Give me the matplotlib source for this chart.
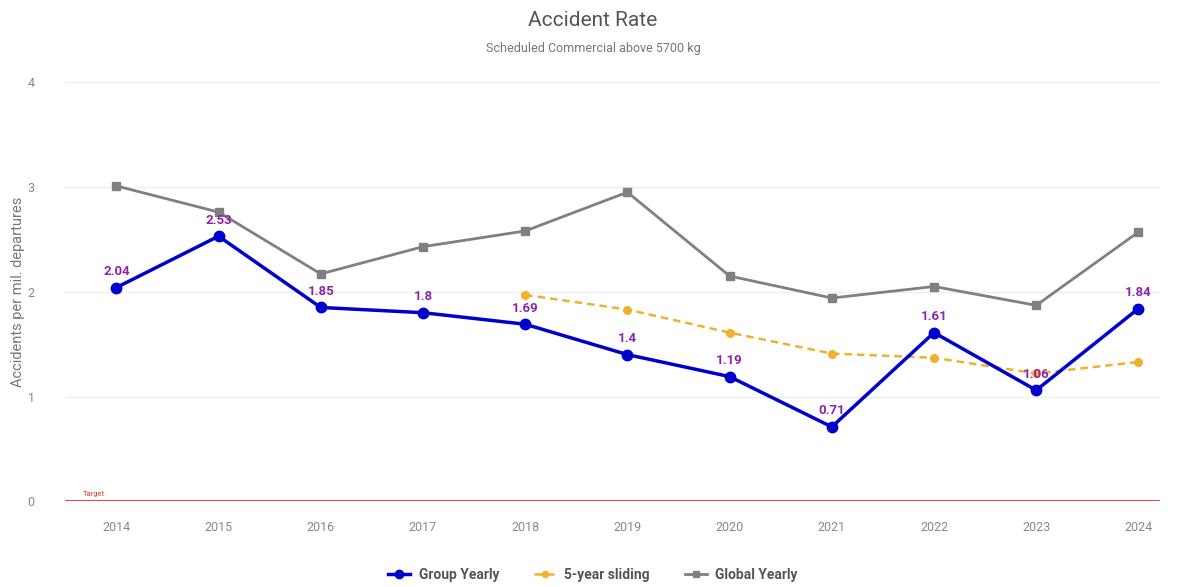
import matplotlib
matplotlib.use("Agg")
import matplotlib.pyplot as plt

years = ["2014", "2015", "2016", "2017", "2018", "2019", "2020", "2021", "2022", "2023", "2024"]
group_yearly = [2.04, 2.53, 1.85, 1.80, 1.69, 1.40, 1.19, 0.71, 1.61, 1.06, 1.84]
sliding_years = ["2018", "2019", "2020", "2021", "2022", "2023", "2024"]
sliding_5yr = [1.97, 1.83, 1.61, 1.41, 1.37, 1.22, 1.33]
global_yearly = [3.01, 2.76, 2.17, 2.43, 2.58, 2.95, 2.15, 1.94, 2.05, 1.87, 2.57]
target = 0

plt.rcParams['font.family'] = ['Roboto', 'DejaVu Sans']

fig = plt.figure(figsize=(11.86, 5.87), dpi=100)
ax = fig.add_axes([0.055, 0.146, 0.923, 0.714])

x = list(range(len(years)))
xs = [years.index(y) for y in sliding_years]

ax.plot(x, global_yearly, color="#808080", lw=2, marker="s", ms=6, zorder=3, label="Global Yearly")
ax.plot(xs, sliding_5yr, color="#F0B030", lw=1.8, ls=(0, (3, 2)), marker="o", ms=5.5, zorder=3, label="5-year sliding")
ax.plot(x, group_yearly, color="#0000CC", lw=2.5, marker="o", ms=7.5, zorder=4, label="Group Yearly")
ax.axhline(target, color="#E84848", lw=1.5, zorder=2)
ax.text(-0.33, target + 0.04, "Target", color="#E53935", fontsize=5.5, ha="left", va="bottom")

for xi, v in zip(x, group_yearly):
    ax.text(xi, v + 0.09, f"{v:g}", color="#8E24AA", fontsize=9.5, ha="center", va="bottom",
            fontweight="bold", zorder=5)

ax.set_xlim(-0.5, 10.21)
ax.set_ylim(0, 4)
ax.set_yticks([0, 1, 2, 3, 4])
ax.set_xticks(x)
ax.set_xticklabels(years)
ax.tick_params(axis="both", length=0, colors="#888888", labelsize=9)
ax.tick_params(axis="x", pad=14)
ax.tick_params(axis="y", pad=22)
ax.grid(axis="y", color="#EEEEEE", lw=1)
for s in ax.spines.values():
    s.set_visible(False)
ax.set_ylabel("Accidents per mil. departures", color="#777777", fontsize=10.5, labelpad=2)

fig.text(0.5, 0.965, "Accident Rate", ha="center", va="center", fontsize=15, color="#555555")
fig.text(0.5, 0.917, "Scheduled Commercial above 5700 kg", ha="center", va="center", fontsize=9, color="#777777")

handles, labels = ax.get_legend_handles_labels()
order = [2, 1, 0]
leg = fig.legend([handles[i] for i in order], [labels[i] for i in order], loc="center",
                 bbox_to_anchor=(0.5, 0.02), ncol=3, frameon=False, fontsize=10,
                 handlelength=1.6, columnspacing=2.5, markerscale=0.8, handletextpad=0.6)
for t in leg.get_texts():
    t.set_color("#555555")
    t.set_fontweight("bold")

fig.savefig("out.png", dpi=100)
